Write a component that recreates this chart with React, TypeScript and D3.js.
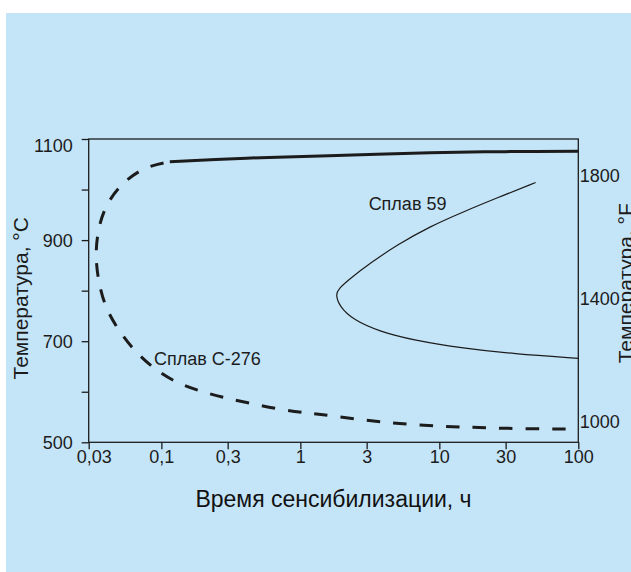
import React, { useRef, useEffect } from "react";
import * as d3 from "d3";

// time axis (hours, log) and temperature axes
const xTicks = [0.03, 0.1, 0.3, 1, 3, 10, 30, 100];
const xTickLabels = ["0,03", "0,1", "0,3", "1", "3", "10", "30", "100"];
const yTicks = [500, 600, 700, 800, 900, 1000, 1100];
const yTickLabels = [500, 700, 900, 1100];
const fTicks = [1000, 1400, 1800];
const fDomain = [933, 1919];

// [hours, °C]
const c276Solid = [
  [0.115, 1055], [0.41, 1062], [1.6, 1067], [8.6, 1073], [30, 1075], [100, 1076],
];
const c276Dashed = [
  [0.115, 1055], [0.078, 1046], [0.055, 1019], [0.0415, 979], [0.0356, 933],
  [0.0333, 874], [0.0352, 818], [0.0393, 768], [0.0482, 725], [0.0628, 683],
  [0.0875, 646], [0.129, 617], [0.195, 600], [0.295, 587], [0.458, 576],
  [0.714, 565], [1.11, 558], [1.63, 553], [2.84, 544], [6.5, 534],
  [14.9, 530], [34, 527], [100, 526],
];
const alloy59 = [
  [49.3, 1014], [25.8, 983], [14.9, 956], [8.56, 927], [4.93, 890],
  [3.17, 854], [2.28, 824], [1.87, 803], [1.8, 792], [1.9, 770],
  [2.4, 742], [3.74, 719], [6.49, 702], [14.9, 686], [34, 675], [100, 666],
];
const labels = [
  { text: "Сплав 59", h: 3.1, t: 959 },
  { text: "Сплав C-276", h: 0.0885, t: 653 },
];

const font = "'Liberation Sans', Arial, sans-serif";
const ink = "#1c1c1c";

const Chart = () => {
  const ref = useRef(null);

  useEffect(() => {
    if (!ref.current) return;
    const width = 631;
    const height = 572;
    const margin = { top: 139, right: 52.7, bottom: 129.7, left: 88.7 };

    const svg = d3.select(ref.current);
    svg.selectAll("*").remove();
    svg.attr("width", width).attr("height", height);

    svg.append("rect")
      .attr("x", 6).attr("y", 13)
      .attr("width", width - 6).attr("height", height - 13)
      .attr("fill", "#c4e5f8");

    const x = d3.scaleLog()
      .domain([0.03, 100])
      .range([margin.left, width - margin.right]);
    const y = d3.scaleLinear()
      .domain([500, 1100])
      .range([height - margin.bottom, margin.top]);
    const yF = d3.scaleLinear()
      .domain(fDomain)
      .range([height - margin.bottom, margin.top]);

    // bottom axis
    const gx = svg.append("g")
      .attr("transform", "translate(0," + (height - margin.bottom) + ")")
      .call(d3.axisBottom(x)
        .tickValues(xTicks)
        .tickFormat((d, i) => xTickLabels[i])
        .tickSize(7)
        .tickPadding(1)
        .tickSizeOuter(0));
    gx.select(".domain").remove();
    gx.selectAll("line").attr("stroke", ink).attr("stroke-width", 1.3);
    gx.selectAll("text")
      .attr("font-family", font).attr("font-size", 18).attr("fill", ink)
      .attr("dx", d => (d === 0.03 ? 5 : 0));

    // left axis
    const gy = svg.append("g")
      .attr("transform", "translate(" + margin.left + ",0)")
      .call(d3.axisLeft(y)
        .tickValues(yTicks)
        .tickFormat(d => (yTickLabels.includes(d) ? String(d) : ""))
        .tickSize(7)
        .tickPadding(9)
        .tickSizeOuter(0));
    gy.select(".domain").remove();
    gy.selectAll("line").attr("stroke", ink).attr("stroke-width", 1.3);
    gy.selectAll("text")
      .attr("font-family", font).attr("font-size", 18).attr("fill", ink)
      .attr("dy", d => (d === 1100 ? "0.68em" : "0.34em"));

    // right °F labels, no tick marks
    svg.append("g")
      .selectAll("text")
      .data(fTicks)
      .enter()
      .append("text")
      .attr("x", width - margin.right + 1.5)
      .attr("y", d => yF(d))
      .attr("dy", "0.35em")
      .attr("font-family", font).attr("font-size", 18).attr("fill", ink)
      .text(d => d);

    // frame
    svg.append("rect")
      .attr("x", margin.left).attr("y", margin.top)
      .attr("width", width - margin.left - margin.right)
      .attr("height", height - margin.top - margin.bottom)
      .attr("fill", "none").attr("stroke", ink).attr("stroke-width", 1.3);

    const line = d3.line()
      .x(d => x(d[0]))
      .y(d => y(d[1]))
      .curve(d3.curveCatmullRom.alpha(0.5));

    const smooth = d3.line()
      .x(d => x(d[0]))
      .y(d => y(d[1]))
      .curve(d3.curveBasis);

    svg.append("path")
      .attr("d", line(c276Solid))
      .attr("fill", "none").attr("stroke", ink).attr("stroke-width", 3);

    svg.append("path")
      .attr("d", smooth(c276Dashed))
      .attr("fill", "none").attr("stroke", ink).attr("stroke-width", 3)
      .attr("stroke-dasharray", "13.5 13")
      .attr("stroke-dashoffset", 20);

    svg.append("path")
      .attr("d", smooth(alloy59))
      .attr("fill", "none").attr("stroke", ink).attr("stroke-width", 1.2);

    svg.append("g")
      .selectAll("text")
      .data(labels)
      .enter()
      .append("text")
      .attr("x", d => x(d.h))
      .attr("y", d => y(d.t))
      .attr("font-family", font).attr("font-size", 18).attr("fill", ink)
      .text(d => d.text);

    // axis titles
    svg.append("text")
      .attr("x", (margin.left + width - margin.right) / 2)
      .attr("y", 507)
      .attr("text-anchor", "middle")
      .attr("font-family", font).attr("font-size", 23).attr("fill", "#111")
      .text("Время сенсибилизации, ч");

    svg.append("text")
      .attr("transform", "translate(28.3,298.3) rotate(-90)")
      .attr("text-anchor", "middle")
      .attr("font-family", font).attr("font-size", 21).attr("fill", ink)
      .text("Температура, °C");

    svg.append("text")
      .attr("transform", "translate(632.5,283.3) rotate(-90)")
      .attr("text-anchor", "middle")
      .attr("font-family", font).attr("font-size", 21).attr("fill", ink)
      .text("Температура, °F");
  }, []);

  return (
    <svg
      ref={ref}
      style={{ position: "absolute", left: 0, top: 0, display: "block" }}
    ></svg>
  );
};

export default function App() {
  return <Chart />;
}
